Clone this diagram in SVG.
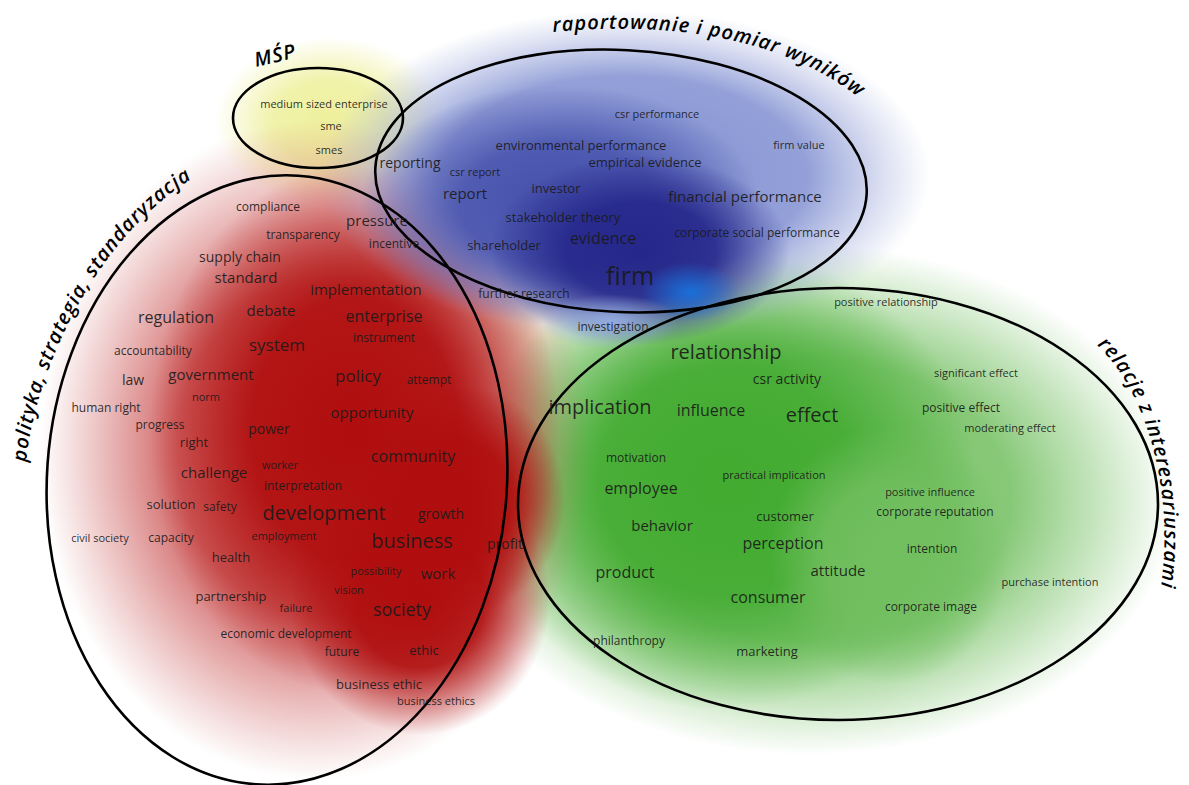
<svg xmlns="http://www.w3.org/2000/svg" width="1189" height="785" viewBox="0 0 1189 785">
<defs>
<style>
.w{font-family:"Open Sans","DejaVu Sans",sans-serif;fill:#1a1a1a;text-anchor:middle;fill-opacity:0.92}
.s11{font-size:11px}.s12{font-size:12px}.s13{font-size:13px}.s14{font-size:14px}.s15{font-size:15px}.s16{font-size:16px}.s17{font-size:17px}.s18{font-size:18px}.s20{font-size:20px}.s24{font-size:25px}
.ttl{font-family:"Open Sans","DejaVu Sans",sans-serif;font-style:italic;font-weight:600;font-size:20px;fill:#000;letter-spacing:1px}
.ring{fill:none;stroke:#000;stroke-width:2.6}
</style>
<radialGradient id="gY"><stop offset="0" stop-color="#eef09c"/><stop offset="0.5" stop-color="#eef09c" stop-opacity="0.85"/><stop offset="1" stop-color="#eef09c" stop-opacity="0"/></radialGradient>
<radialGradient id="gGl"><stop offset="0" stop-color="#72bf60"/><stop offset="0.55" stop-color="#72bf60" stop-opacity="0.85"/><stop offset="1" stop-color="#72bf60" stop-opacity="0"/></radialGradient>
<radialGradient id="gG"><stop offset="0" stop-color="#42ab30"/><stop offset="0.5" stop-color="#42ab30" stop-opacity="0.9"/><stop offset="1" stop-color="#42ab30" stop-opacity="0"/></radialGradient>
<radialGradient id="gRl"><stop offset="0" stop-color="#c43c3c"/><stop offset="0.5" stop-color="#c84848" stop-opacity="0.85"/><stop offset="1" stop-color="#d06060" stop-opacity="0"/></radialGradient>
<radialGradient id="gR"><stop offset="0" stop-color="#b00e0e"/><stop offset="0.5" stop-color="#b00e0e" stop-opacity="0.9"/><stop offset="1" stop-color="#b00e0e" stop-opacity="0"/></radialGradient>
<radialGradient id="gBl"><stop offset="0" stop-color="#8090d0"/><stop offset="0.6" stop-color="#8896d4" stop-opacity="0.9"/><stop offset="1" stop-color="#a0acdc" stop-opacity="0"/></radialGradient>
<radialGradient id="gB"><stop offset="0" stop-color="#4550ab"/><stop offset="0.5" stop-color="#4550ab" stop-opacity="0.85"/><stop offset="1" stop-color="#4550ab" stop-opacity="0"/></radialGradient>
<radialGradient id="gBd"><stop offset="0" stop-color="#25278a"/><stop offset="0.5" stop-color="#25278a" stop-opacity="0.9"/><stop offset="1" stop-color="#25278a" stop-opacity="0"/></radialGradient>
<radialGradient id="gBb"><stop offset="0" stop-color="#1a6fd8"/><stop offset="1" stop-color="#1a6fd8" stop-opacity="0"/></radialGradient>
<radialGradient id="gP"><stop offset="0" stop-color="#e6efcf"/><stop offset="1" stop-color="#e6efcf" stop-opacity="0"/></radialGradient>
<radialGradient id="gLb"><stop offset="0" stop-color="#94abe2"/><stop offset="1" stop-color="#94abe2" stop-opacity="0"/></radialGradient>
<path id="pBlue" d="M 553 32 C 680 20 800 40 878 114"/>
<path id="pRed" d="M 26 462 C 34 380 92 228 214 166"/>
<path id="pGreen" d="M 1097 345 C 1155 400 1182 520 1152 632"/>
</defs>
<rect width="1189" height="785" fill="#fff"/>
<g id="density">
<ellipse cx="330" cy="122" rx="115" ry="85" fill="url(#gY)"/>
<ellipse cx="525" cy="345" rx="80" ry="80" fill="url(#gP)"/>
<ellipse cx="810" cy="500" rx="365" ry="255" fill="url(#gGl)"/>
<ellipse cx="725" cy="480" rx="250" ry="230" fill="url(#gG)"/>
<ellipse cx="890" cy="555" rx="120" ry="130" fill="url(#gGl)"/>
<ellipse cx="315" cy="450" rx="275" ry="330" fill="url(#gRl)"/>
<ellipse cx="355" cy="430" rx="205" ry="265" fill="url(#gR)"/>
<ellipse cx="420" cy="600" rx="130" ry="135" fill="url(#gR)"/>
<ellipse cx="460" cy="500" rx="105" ry="115" fill="url(#gR)"/>
<ellipse cx="625" cy="175" rx="305" ry="165" fill="url(#gBl)"/>
<ellipse cx="560" cy="205" rx="200" ry="120" fill="url(#gB)"/>
<ellipse cx="640" cy="250" rx="150" ry="95" fill="url(#gBd)"/>
<ellipse cx="690" cy="292" rx="50" ry="30" fill="url(#gBb)"/>
<ellipse cx="610" cy="322" rx="70" ry="28" fill="url(#gLb)"/>
</g>
<g id="rings">
<ellipse class="ring" cx="318" cy="118" rx="85" ry="50"/>
<ellipse class="ring" cx="621" cy="181" rx="246" ry="131" transform="rotate(3 621 181)"/>
<ellipse class="ring" cx="277" cy="480" rx="230" ry="305" transform="rotate(4 277 480)"/>
<ellipse class="ring" cx="838" cy="504" rx="320" ry="216"/>
</g>
<g id="titles">
<text class="ttl" transform="translate(256 67) rotate(-13)" font-size="19">MŚP</text>
<text class="ttl"><textPath href="#pBlue">raportowanie i pomiar wyników</textPath></text>
<text class="ttl"><textPath href="#pRed">polityka, strategia, standaryzacja</textPath></text>
<text class="ttl"><textPath href="#pGreen">relacje z interesariuszami</textPath></text>
</g>
<g id="cluster-msp">
<text class="w s11" x="324" y="108">medium sized enterprise</text>
<text class="w s11" x="331" y="130">sme</text>
<text class="w s11" x="329" y="154">smes</text>
</g>
<g id="cluster-blue">
<text class="w s11" x="657" y="118">csr performance</text>
<text class="w s13" x="581" y="150">environmental performance</text>
<text class="w s13" x="645" y="167">empirical evidence</text>
<text class="w s11" x="799" y="149">firm value</text>
<text class="w s14" x="410" y="168">reporting</text>
<text class="w s11" x="475" y="176">csr report</text>
<text class="w s15" x="465" y="199">report</text>
<text class="w s13" x="556" y="193">investor</text>
<text class="w s15" x="745" y="202">financial performance</text>
<text class="w s13" x="563" y="222">stakeholder theory</text>
<text class="w s12" x="757" y="237">corporate social performance</text>
<text class="w s13" x="504" y="250">shareholder</text>
<text class="w s16" x="603" y="244">evidence</text>
<text class="w s24" x="630" y="285">firm</text>
<text class="w s12" x="524" y="298">further research</text>
<text class="w s12" x="613" y="331">investigation</text>
</g>
<g id="cluster-red">
<text class="w s12" x="268" y="211">compliance</text>
<text class="w s12" x="303" y="239">transparency</text>
<text class="w s15" x="377" y="226">pressure</text>
<text class="w s12" x="394" y="248">incentive</text>
<text class="w s14" x="240" y="262">supply chain</text>
<text class="w s15" x="246" y="283">standard</text>
<text class="w s15" x="366" y="295">implementation</text>
<text class="w s16" x="176" y="323">regulation</text>
<text class="w s15" x="271" y="316">debate</text>
<text class="w s16" x="384" y="322">enterprise</text>
<text class="w s12" x="153" y="355">accountability</text>
<text class="w s17" x="277" y="351">system</text>
<text class="w s12" x="384" y="342">instrument</text>
<text class="w s14" x="133" y="385">law</text>
<text class="w s15" x="211" y="380">government</text>
<text class="w s17" x="358" y="382">policy</text>
<text class="w s12" x="429" y="384">attempt</text>
<text class="w s11" x="206" y="401">norm</text>
<text class="w s12" x="106" y="412">human right</text>
<text class="w s12" x="160" y="429">progress</text>
<text class="w s14" x="269" y="434">power</text>
<text class="w s15" x="372" y="418">opportunity</text>
<text class="w s13" x="194" y="447">right</text>
<text class="w s15" x="214" y="478">challenge</text>
<text class="w s11" x="280" y="469">worker</text>
<text class="w s16" x="413" y="462">community</text>
<text class="w s12" x="303" y="490">interpretation</text>
<text class="w s13" x="171" y="509">solution</text>
<text class="w s12" x="220" y="511">safety</text>
<text class="w s20" x="324" y="520">development</text>
<text class="w s14" x="441" y="519">growth</text>
<text class="w s11" x="100" y="542">civil society</text>
<text class="w s12" x="171" y="542">capacity</text>
<text class="w s11" x="284" y="540">employment</text>
<text class="w s20" x="412" y="548">business</text>
<text class="w s14" x="505" y="549">profit</text>
<text class="w s13" x="231" y="562">health</text>
<text class="w s11" x="376" y="575">possibility</text>
<text class="w s15" x="438" y="579">work</text>
<text class="w s11" x="349" y="594">vision</text>
<text class="w s13" x="231" y="601">partnership</text>
<text class="w s11" x="296" y="612">failure</text>
<text class="w s18" x="402" y="616">society</text>
<text class="w s12" x="286" y="638">economic development</text>
<text class="w s12" x="342" y="656">future</text>
<text class="w s13" x="424" y="655">ethic</text>
<text class="w s13" x="379" y="689">business ethic</text>
<text class="w s11" x="436" y="705">business ethics</text>
</g>
<g id="cluster-green">
<text class="w s11" x="886" y="306">positive relationship</text>
<text class="w s20" x="726" y="359">relationship</text>
<text class="w s14" x="787" y="384">csr activity</text>
<text class="w s11" x="976" y="377">significant effect</text>
<text class="w s20" x="600" y="414">implication</text>
<text class="w s16" x="711" y="416">influence</text>
<text class="w s20" x="812" y="422">effect</text>
<text class="w s12" x="961" y="412">positive effect</text>
<text class="w s11" x="1010" y="432">moderating effect</text>
<text class="w s12" x="636" y="462">motivation</text>
<text class="w s11" x="774" y="479">practical implication</text>
<text class="w s16" x="641" y="494">employee</text>
<text class="w s11" x="930" y="496">positive influence</text>
<text class="w s15" x="662" y="531">behavior</text>
<text class="w s13" x="785" y="521">customer</text>
<text class="w s12" x="935" y="516">corporate reputation</text>
<text class="w s16" x="783" y="549">perception</text>
<text class="w s12" x="932" y="553">intention</text>
<text class="w s16" x="625" y="578">product</text>
<text class="w s15" x="838" y="576">attitude</text>
<text class="w s11" x="1050" y="586">purchase intention</text>
<text class="w s16" x="768" y="603">consumer</text>
<text class="w s12" x="931" y="611">corporate image</text>
<text class="w s12" x="629" y="645">philanthropy</text>
<text class="w s13" x="767" y="656">marketing</text>
</g>
</svg>
